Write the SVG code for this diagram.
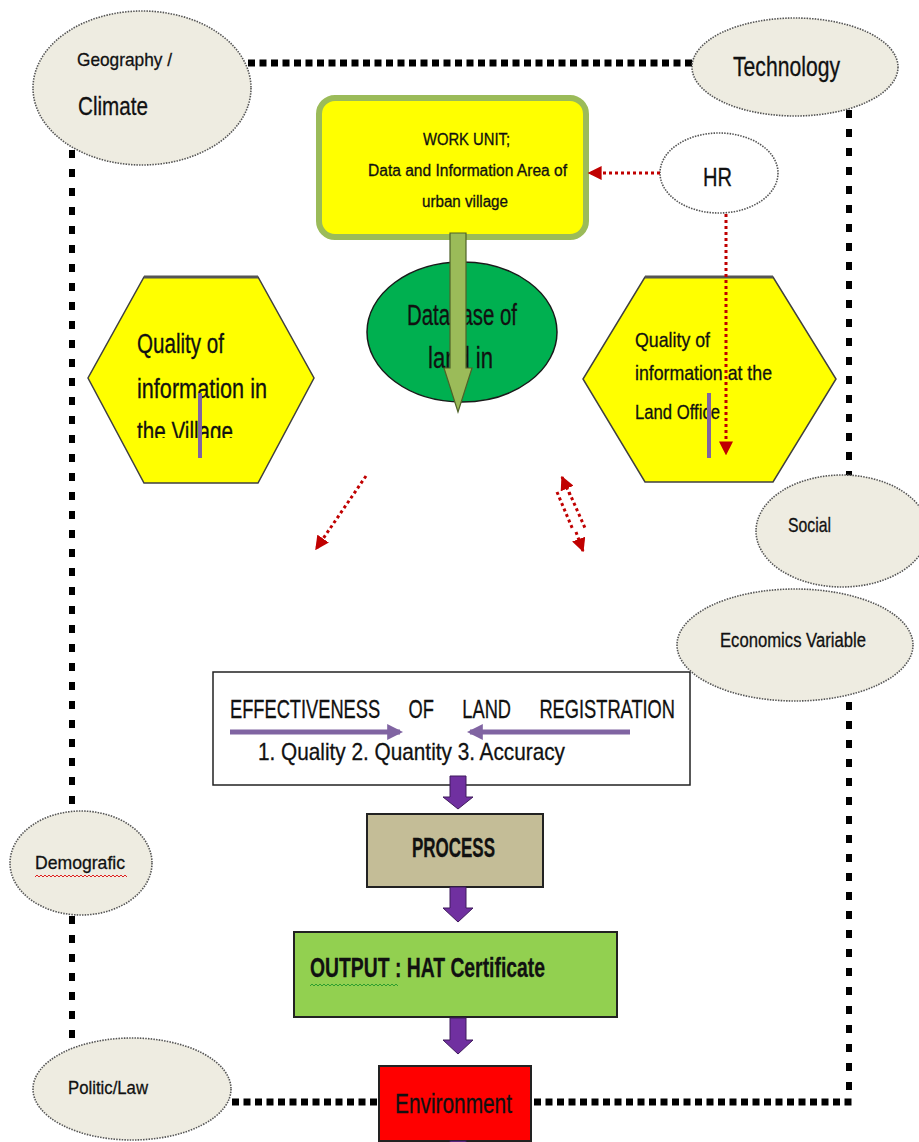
<svg xmlns="http://www.w3.org/2000/svg" width="919" height="1142" viewBox="0 0 919 1142">
<style>
.t{font-family:"Liberation Sans Narrow","Liberation Sans",Arial,sans-serif;fill:#111;stroke:#111;stroke-width:0.3}
.env{fill:#EEECE1;stroke:#555;stroke-width:1.6;stroke-dasharray:1.5 1.2}
.fh{stroke:#000;stroke-width:7;stroke-dasharray:7 4.5;fill:none}
.fv{stroke:#000;stroke-width:6;stroke-dasharray:8 11;fill:none}
.red{stroke:#C00000;stroke-width:3;stroke-dasharray:3 3;fill:none}
.hex{fill:#FFFF00;stroke:#404040;stroke-width:1.5}
.bar{stroke:#8064A2;stroke-width:4}
.pa{fill:#7030A0;stroke:#3f1a5c;stroke-width:1}
</style>
<defs>
<marker id="rh" viewBox="0 0 10 10" refX="9" refY="5" markerWidth="14" markerHeight="14" markerUnits="userSpaceOnUse" orient="auto-start-reverse"><path d="M0,0 L10,5 L0,10 z" fill="#C00000"/></marker>
<marker id="ph" viewBox="0 0 10 10" refX="8" refY="5" markerWidth="16" markerHeight="16" markerUnits="userSpaceOnUse" orient="auto"><path d="M0,0 L10,5 L0,10 z" fill="#8064A2"/></marker>
<clipPath id="clipL"><rect x="80" y="270" width="240" height="168"/></clipPath>
</defs>

<g id="frame">
<line class="fh" x1="248" y1="63" x2="692" y2="63"/>
<line class="fv" x1="72" y1="150" x2="72" y2="812"/>
<line class="fv" x1="72" y1="916" x2="72" y2="1046"/>
<line class="fv" x1="849" y1="110" x2="849" y2="476"/>
<line class="fv" x1="849" y1="702" x2="849" y2="1098"/>
<line class="fh" x1="232" y1="1102" x2="378" y2="1102"/>
<line class="fh" x1="534" y1="1102" x2="852" y2="1102"/>
</g>

<g id="geography">
<ellipse class="env" cx="142" cy="88" rx="109" ry="77"/>
<text class="t" x="77" y="66" font-size="19" textLength="95" lengthAdjust="spacingAndGlyphs">Geography /</text>
<text class="t" x="78" y="115" font-size="26" textLength="70" lengthAdjust="spacingAndGlyphs">Climate</text>
</g>

<g id="technology">
<ellipse class="env" cx="795" cy="67" rx="103" ry="49"/>
<text class="t" x="733" y="76" font-size="28" textLength="107" lengthAdjust="spacingAndGlyphs">Technology</text>
</g>

<g id="hr">
<ellipse cx="719" cy="173" rx="59" ry="40" fill="#fff" stroke="#555" stroke-width="1.6" stroke-dasharray="1.5 1.2"/>
<text class="t" x="703" y="186" font-size="26" textLength="29" lengthAdjust="spacingAndGlyphs">HR</text>
</g>

<g id="workunit">
<rect x="319" y="98" width="267" height="139" rx="16" fill="#FFFF00" stroke="#9BBB59" stroke-width="6"/>
<text class="t" x="423" y="145" font-size="16" textLength="87" lengthAdjust="spacingAndGlyphs">WORK UNIT;</text>
<text class="t" x="368" y="176" font-size="16" textLength="199" lengthAdjust="spacingAndGlyphs">Data and Information Area of</text>
<text class="t" x="422" y="207" font-size="16" textLength="86" lengthAdjust="spacingAndGlyphs">urban village</text>
</g>

<g id="database">
<ellipse cx="462" cy="332" rx="95" ry="70" fill="#00B050" stroke="#1a1a1a" stroke-width="1.5"/>
<text class="t" x="407" y="325" font-size="29" textLength="110" lengthAdjust="spacingAndGlyphs">Database of</text>
<text class="t" x="428" y="368" font-size="29" textLength="65" lengthAdjust="spacingAndGlyphs">land in</text>
</g>

<g id="quality-village">
<polygon class="hex" points="144,277 258,277 314,378 258,483 144,483 88,378"/>
<line x1="144" y1="277" x2="258" y2="277" stroke="#555" stroke-width="3"/>
<g clip-path="url(#clipL)">
<text class="t" x="137" y="353" font-size="27" textLength="87" lengthAdjust="spacingAndGlyphs">Quality of</text>
<text class="t" x="137" y="398" font-size="27" textLength="130" lengthAdjust="spacingAndGlyphs">information in</text>
<text class="t" x="137" y="441" font-size="27" textLength="96" lengthAdjust="spacingAndGlyphs">the Village</text>
</g>
<line class="bar" x1="200" y1="393" x2="200" y2="458"/>
</g>

<g id="quality-office">
<polygon class="hex" points="645,277 773,277 836,379 773,482 645,482 583,379"/>
<line x1="645" y1="277" x2="773" y2="277" stroke="#555" stroke-width="3"/>
<text class="t" x="635" y="347" font-size="21" textLength="75" lengthAdjust="spacingAndGlyphs">Quality of</text>
<text class="t" x="635" y="380" font-size="21" textLength="137" lengthAdjust="spacingAndGlyphs">information at the</text>
<text class="t" x="635" y="419" font-size="21" textLength="85" lengthAdjust="spacingAndGlyphs">Land Office</text>
<line class="bar" x1="709" y1="393" x2="709" y2="458"/>
</g>

<g id="social">
<ellipse class="env" cx="842" cy="531" rx="86" ry="56"/>
<text class="t" x="788" y="532" font-size="21" textLength="43" lengthAdjust="spacingAndGlyphs">Social</text>
</g>

<g id="effectiveness">
<rect x="213" y="672" width="477" height="113" fill="#fff" stroke="#222" stroke-width="1.5"/>
<text class="t" x="230" y="718" font-size="25" word-spacing="32" textLength="445" lengthAdjust="spacingAndGlyphs">EFFECTIVENESS OF LAND REGISTRATION</text>
<text class="t" x="258" y="760" font-size="24" textLength="307" lengthAdjust="spacingAndGlyphs">1. Quality 2. Quantity 3. Accuracy</text>
<line x1="230" y1="732" x2="400" y2="732" stroke="#8064A2" stroke-width="5" marker-end="url(#ph)"/>
<line x1="630" y1="732" x2="470" y2="732" stroke="#8064A2" stroke-width="5" marker-end="url(#ph)"/>
</g>

<g id="economics">
<ellipse class="env" cx="795" cy="645" rx="118" ry="56"/>
<text class="t" x="720" y="647" font-size="20" textLength="146" lengthAdjust="spacingAndGlyphs">Economics Variable</text>
</g>

<g id="process">
<rect x="367" y="814" width="176" height="73" fill="#C4BD97" stroke="#222" stroke-width="2"/>
<text class="t" x="412" y="857" font-size="27" font-weight="bold" textLength="83" lengthAdjust="spacingAndGlyphs">PROCESS</text>
</g>

<g id="output">
<rect x="294" y="932" width="323" height="85" fill="#92D050" stroke="#222" stroke-width="2"/>
<text class="t" x="310" y="977" font-size="27" font-weight="bold" textLength="235" lengthAdjust="spacingAndGlyphs">OUTPUT : HAT Certificate</text>
<path d="M310,986 l2,-2 l2,2 l2,-2 l2,2 l2,-2 l2,2 l2,-2 l2,2 l2,-2 l2,2 l2,-2 l2,2 l2,-2 l2,2 l2,-2 l2,2 l2,-2 l2,2 l2,-2 l2,2 l2,-2 l2,2 l2,-2 l2,2 l2,-2 l2,2 l2,-2 l2,2 l2,-2 l2,2 l2,-2 l2,2 l2,-2 l2,2 l2,-2 l2,2 l2,-2 l2,2 l2,-2 l2,2 l2,-2 l2,2 l2,-2 l2,2" fill="none" stroke="#2e9e2e" stroke-width="1"/>
</g>

<g id="environment">
<rect x="379" y="1066" width="152" height="75" fill="#FF0000" stroke="#222" stroke-width="2"/>
<text class="t" x="395" y="1113" font-size="27" textLength="117" lengthAdjust="spacingAndGlyphs">Environment</text>
</g>

<g id="demografic">
<ellipse class="env" cx="81" cy="863" rx="71" ry="52"/>
<text class="t" x="35" y="869" font-size="19" textLength="90" lengthAdjust="spacingAndGlyphs">Demografic</text>
<path d="M35,877 l2,-2 l2,2 l2,-2 l2,2 l2,-2 l2,2 l2,-2 l2,2 l2,-2 l2,2 l2,-2 l2,2 l2,-2 l2,2 l2,-2 l2,2 l2,-2 l2,2 l2,-2 l2,2 l2,-2 l2,2 l2,-2 l2,2 l2,-2 l2,2 l2,-2 l2,2 l2,-2 l2,2 l2,-2 l2,2 l2,-2 l2,2 l2,-2 l2,2 l2,-2 l2,2 l2,-2 l2,2 l2,-2 l2,2 l2,-2 l2,2 l2,-2 l2,2" fill="none" stroke="#e02020" stroke-width="1"/>
</g>

<g id="politic">
<ellipse class="env" cx="132" cy="1089" rx="99" ry="51"/>
<text class="t" x="68" y="1094" font-size="19" textLength="80" lengthAdjust="spacingAndGlyphs">Politic/Law</text>
</g>

<g id="connectors">
<path d="M450,233 L466,233 L466,368 L472,368 L458,412 L444,368 L450,368 Z" fill="#9BBB59" stroke="#4F6228" stroke-width="1.2"/>
<line class="red" x1="660" y1="173" x2="589" y2="173" marker-end="url(#rh)"/>
<line class="red" x1="726" y1="214" x2="726" y2="454" marker-end="url(#rh)"/>
<line class="red" x1="366" y1="476" x2="316" y2="549" marker-end="url(#rh)"/>
<line class="red" x1="557" y1="492" x2="573" y2="530"/>
<line class="red" x1="569" y1="492" x2="585" y2="528"/>
<line class="red" x1="570" y1="495" x2="562" y2="477" marker-end="url(#rh)" stroke-dasharray="none"/>
<line class="red" x1="576" y1="532" x2="583" y2="551" marker-end="url(#rh)" stroke-dasharray="none"/>
<path class="pa" d="M450,776 L466,776 L466,797 L473,797 L458,809 L443,797 L450,797 Z"/>
<path class="pa" d="M450,887 L466,887 L466,908 L473,908 L458,922 L443,908 L450,908 Z"/>
<path class="pa" d="M450,1018 L466,1018 L466,1040 L473,1040 L458,1054 L443,1040 L450,1040 Z"/>
<rect class="pa" x="450" y="1141" width="16" height="3"/>
</g>
</svg>
